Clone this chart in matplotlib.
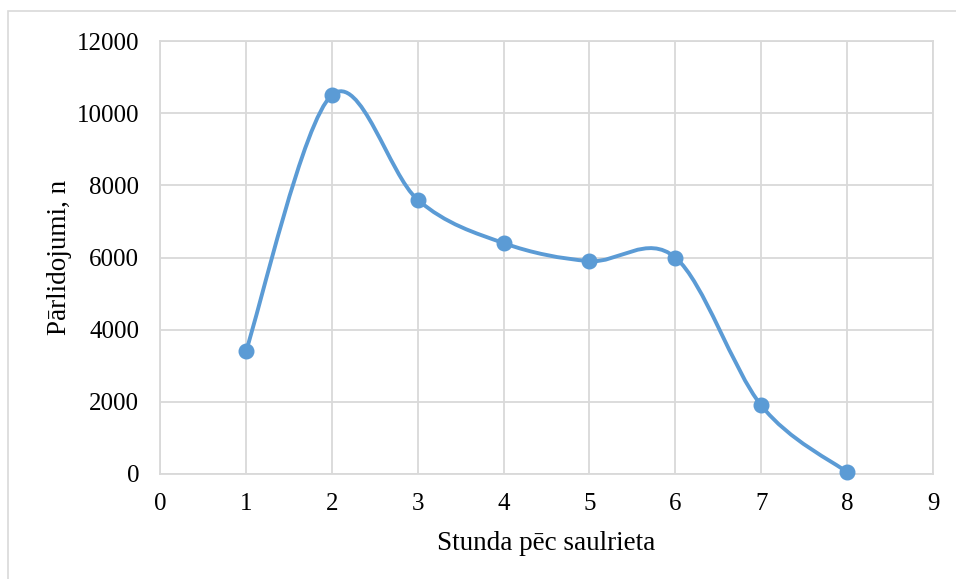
import numpy as np
import matplotlib.pyplot as plt
from matplotlib.path import Path
from matplotlib.patches import PathPatch, Rectangle

plt.rcParams['font.family'] = ['Liberation Serif', 'DejaVu Serif']

hours = [1, 2, 3, 4, 5, 6, 7, 8]
flights = [3400, 10500, 7600, 6400, 5900, 6000, 1900, 50]

LINE = '#5B9BD5'
GRID = '#D9D9D9'


def smooth_path(xs, ys):
    # cubic Bezier through every point, Catmull-Rom style tangents
    p = np.column_stack([xs, ys]).astype(float)
    n = len(p)
    verts = [p[0]]
    codes = [Path.MOVETO]
    for i in range(n - 1):
        prev = p[i - 1] if i > 0 else p[i]
        nxt = p[i + 2] if i + 2 < n else p[i + 1]
        c1 = p[i] + (p[i + 1] - prev) / 6
        c2 = p[i + 1] - (nxt - p[i]) / 6
        verts += [c1, c2, p[i + 1]]
        codes += [Path.CURVE4] * 3
    return Path(verts, codes)


fig = plt.figure(figsize=(9.56, 5.79), dpi=100)
fig.patches.append(Rectangle((8 / 956, -0.1), 1.1, 1 - 11 / 579 + 0.1,
                             transform=fig.transFigure, fill=False,
                             edgecolor=GRID, linewidth=1.2))
ax = fig.add_axes([160 / 956, 1 - 474 / 579, (933 - 160) / 956, (474 - 41) / 579])

ax.add_patch(PathPatch(smooth_path(hours, flights), facecolor='none',
                       edgecolor=LINE, linewidth=2.8, capstyle='round', zorder=3))
ax.plot(hours, flights, 'o', color=LINE, markersize=10.5, zorder=4, clip_on=False)

ax.set_xlim(0, 9)
ax.set_ylim(0, 12000)
ax.set_xticks(range(0, 10))
ax.set_yticks(range(0, 12001, 2000))
ax.grid(True, color=GRID, linewidth=1.3)
ax.set_axisbelow(True)
for s in ax.spines.values():
    s.set_color(GRID)
    s.set_linewidth(1.3)
ax.tick_params(length=0, labelsize=18, pad=14)
ax.tick_params(axis='y', pad=15)

ax.set_xlabel('Stunda pēc saulrieta', fontsize=19.5, va='center')
ax.set_ylabel('Pārlidojumi, n', fontsize=19.5, va='center')
ax.xaxis.set_label_coords(0.5, -(543 - 474) / 433)
ax.yaxis.set_label_coords(-(160 - 60) / 773, 0.5)

fig.savefig('out.png', dpi=100)
